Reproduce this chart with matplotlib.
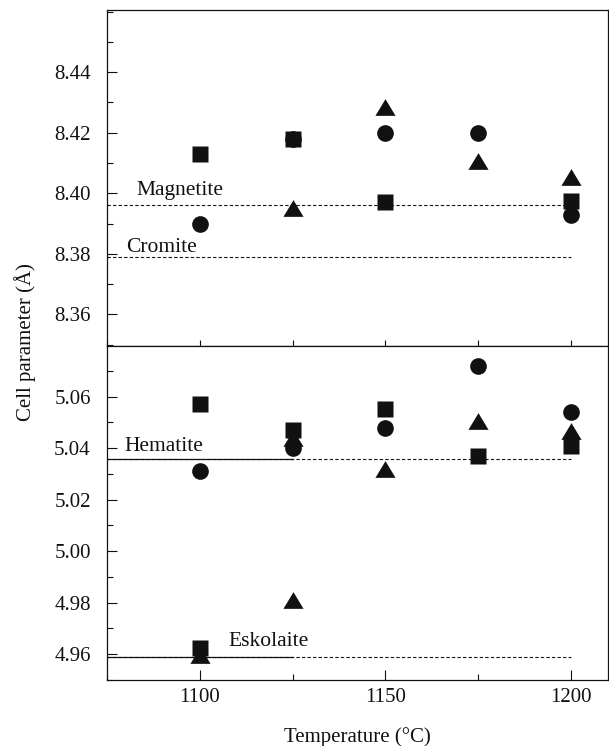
import matplotlib
matplotlib.use("Agg")
import matplotlib.pyplot as plt
from matplotlib.ticker import MultipleLocator, FixedLocator, FormatStrFormatter

plt.rcParams['font.family'] = ['Liberation Serif', 'DejaVu Serif']

# ---- data: spinel (upper panel) ----
sp_sq_T = [1100, 1125, 1150, 1200]
sp_sq_a = [8.413, 8.418, 8.397, 8.3975]
sp_ci_T = [1100, 1125, 1150, 1175, 1200]
sp_ci_a = [8.390, 8.418, 8.420, 8.420, 8.393]
sp_tr_T = [1125, 1150, 1175, 1200]
sp_tr_a = [8.395, 8.4285, 8.4105, 8.4055]

# ---- data: corundum-type (lower panel) ----
rh_sq_T = [1100, 1100, 1125, 1150, 1175, 1200]
rh_sq_a = [5.057, 4.9625, 5.047, 5.0553, 5.037, 5.041]
rh_ci_T = [1100, 1125, 1150, 1175, 1200]
rh_ci_a = [5.031, 5.040, 5.048, 5.072, 5.054]
rh_tr_T = [1100, 1125, 1125, 1150, 1175, 1200]
rh_tr_a = [4.9595, 5.044, 4.981, 5.032, 5.0505, 5.0465]

# reference values
ref_top_names = ["Magnetite", "Cromite"]
ref_top_vals = [8.396, 8.379]
ref_bot_names = ["Hematite", "Eskolaite"]
ref_bot_vals = [5.0356, 4.9590]

top_ticks = [8.36, 8.38, 8.40, 8.42, 8.44]
bot_ticks = [4.96, 4.98, 5.00, 5.02, 5.04, 5.06]
x_major = [1100, 1150, 1200]

W, H = 609, 746
fig = plt.figure(figsize=(W / 100, H / 100), dpi=100)
left, right = 107 / W, 608 / W
ax1 = fig.add_axes([left, 1 - 346 / H, right - left, (346 - 10) / H])
ax2 = fig.add_axes([left, 1 - 680 / H, right - left, (680 - 346) / H])

k = '#111111'
ms_sq, ms_ci, ms_tr = 11, 12, 14.5
tri = [(0, 0.83), (-1, -0.83), (1, -0.83)]

for ax, ticks in ((ax1, top_ticks), (ax2, bot_ticks)):
    ax.set_xlim(1075, 1210)
    ax.xaxis.set_major_locator(MultipleLocator(50))
    ax.xaxis.set_minor_locator(MultipleLocator(25))
    ax.yaxis.set_major_locator(FixedLocator(ticks))
    ax.yaxis.set_minor_locator(MultipleLocator(0.01))
    ax.yaxis.set_major_formatter(FormatStrFormatter('%.2f'))
    ax.tick_params(axis='y', which='major', direction='in', length=7.5, width=0.8,
                   labelsize=15, pad=11.7, colors=k)
    ax.tick_params(axis='y', which='minor', direction='in', length=4.5, width=0.8, colors=k)
    for s in ax.spines.values():
        s.set_linewidth(0.9)
        s.set_color(k)

ax1.set_ylim(8.3496, 8.4605)
ax2.set_ylim(4.9499, 5.0797)

ax1.tick_params(axis='x', which='both', direction='in', length=4.5, width=0.8,
                labelbottom=False, colors=k)
ax2.tick_params(axis='x', which='major', direction='in', length=7.5, width=0.8,
                labelsize=15, pad=6, colors=k)
ax2.tick_params(axis='x', which='minor', direction='in', length=4.5, width=0.8, colors=k)

# reference lines
dash = (0, (3, 2))
for v in ref_top_vals:
    ax1.plot([1075, 1200], [v, v], color=k, lw=0.8, ls=dash)
for v in ref_bot_vals:
    ax2.plot([1075, 1200], [v, v], color=k, lw=0.8, ls=dash)
    ax2.plot([1075, 1125], [v, v], color=k, lw=0.9, ls='-')

fs_ann = 15.5
ax1.text(1082.8, ref_top_vals[0] + 0.0033, ref_top_names[0], fontsize=fs_ann, color=k, va='baseline')
ax1.text(1080.1, ref_top_vals[1] + 0.0016, ref_top_names[1], fontsize=fs_ann, color=k, va='baseline')
ax2.text(1079.8, ref_bot_vals[0] + 0.0034, ref_bot_names[0], fontsize=fs_ann, color=k, va='baseline')
ax2.text(1107.8, ref_bot_vals[1] + 0.0042, ref_bot_names[1], fontsize=fs_ann, color=k, va='baseline')

# data markers
ax1.plot(sp_sq_T, sp_sq_a, marker='s', color=k, ms=ms_sq, mec='none', ls='none')
ax1.plot(sp_tr_T, sp_tr_a, marker=tri, color=k, ms=ms_tr, mec='none', ls='none')
ax1.plot(sp_ci_T, sp_ci_a, marker='o', color=k, ms=ms_ci, mec='none', ls='none')

ax2.plot(rh_sq_T, rh_sq_a, marker='s', color=k, ms=ms_sq, mec='none', ls='none')
ax2.plot(rh_tr_T, rh_tr_a, marker=tri, color=k, ms=ms_tr, mec='none', ls='none')
ax2.plot(rh_ci_T, rh_ci_a, marker='o', color=k, ms=ms_ci, mec='none', ls='none')

ax2.set_xticks(x_major)
ax2.set_xlabel("Temperature (°C)", fontsize=15, color=k, labelpad=14)
fig.text(25 / W, 1 - 342 / H, "Cell parameter (Å)", rotation=90, fontsize=15,
         color=k, ha='center', va='center')

fig.savefig("out.png", dpi=100)
